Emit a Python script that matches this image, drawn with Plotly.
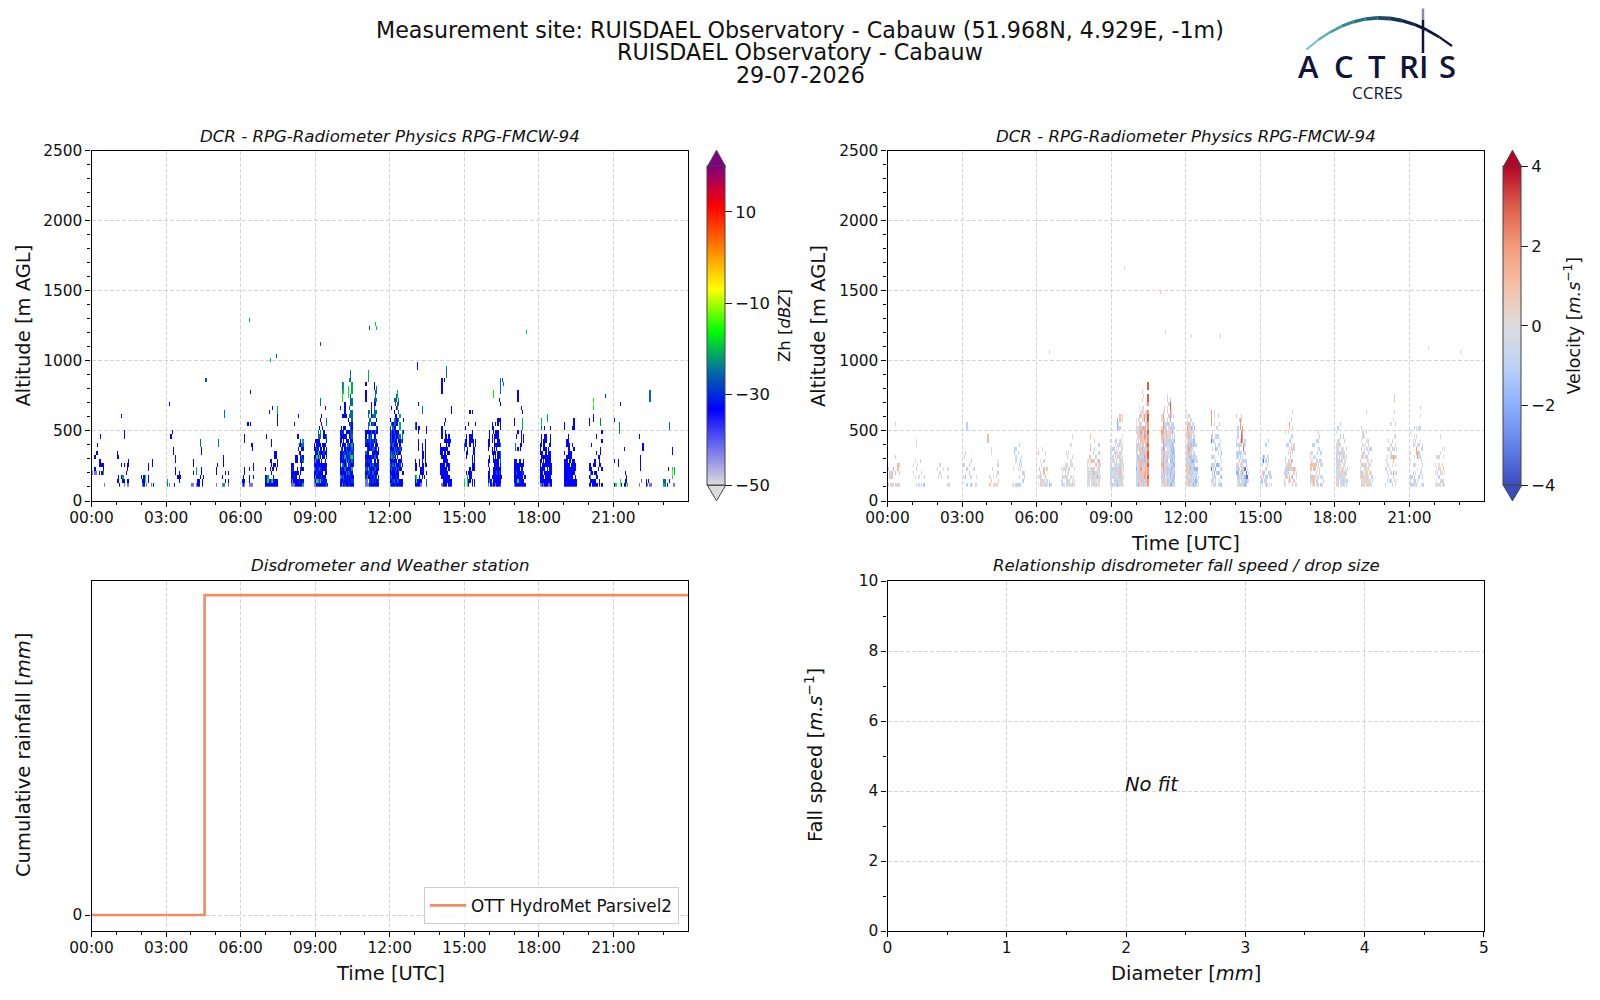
"""DCR and disdrometer quicklook for the Cabauw site, one day."""

import pandas as pd
import plotly.graph_objects as go

W, H = 1600, 1000
PAGE_MARGIN = 8   # browser body margin around the plot div
FONT = "DejaVu Sans"
GRID = "#d4d4d4"
NAVY = "#10143c"

# one group of radar columns per hour
burst_hours = [0.00, 1.03, 2.03, 3.04, 4.05, 5.04, 6.06, 7.02, 8.02, 9.00, 10.03, 11.03,
               12.02, 13.04, 14.07, 15.00, 16.00, 17.02, 18.03, 19.03, 20.03, 21.04, 22.05, 23.05]
column_step = 0.047   # hours
gate_bottom = 105.0   # m
gate_step = 28.6      # m

# letters are dBZ classes, one string per column, lowest gate first
zh_classes = {"a": -42, "b": -33, "c": -29, "d": -25, "e": -21, "f": -17, "g": -12, "h": -5}
zh_bursts = [
    "...aa ...a - ...ab..b ...a....b ........b.b - ...b.bb .....bb.....b ...b.b ...ebb a",
    ".b.....bb .bb....b b - ..b..b...........b .be ab...b......bb - ...b ab..bb ab...bb",
    "..b ab bbb .fe a - .bb.bb - a .....bb b",
    "de - a...................b ............b .............b ........bb b ...bb.bb - ..b .bbb ..b",
    "a a..b.bb - - a..ee bb bb ..b.......dd ...bb...bb bb ..b",
    "a..bb .....b ..........dd - - a.b e....bbb e................dd .b.b - ab.b",
    "ab bbb ab.bb......bb - - ...............b abb.b a..............b.......b a.........b a........bb ..b.bb",
    "bbb.b bbb.........b bfe bb................b bb..b.b be.b.bb...bb bf..b..............b bbb.bb bb...b.bb bb..b..bb bb...bb........bbbee",
    "abbbbb aabbcb abbbbb abcb...........b bbbb..bb bb.bb.bb....b bb.b.....b..b....b bcb.....b.b bb.bc.bbb.bb bb..bbbd.bd eb..b.db.bde",
    "aabbabcb.bb ababcbabbb.b bfbcbbbfbcbb bebbcbbbfbbbdd bcbbdbbfb.bbd.b bfbbcb.bbbb.dd..b...dd bbcbbbb.bb.....b.b bcbbbb.bb.b...b bbb.bb.bcbb.bb bcbbbbb.b.b.b......b eb.bcb.bbb.bd..dd b",
    "bcabbcbbb.bbcb.....b bbdbc.bbbc.bbcb abcbbdbcbbb.bb...b...fffdd bcdbbdbbc.bbbcb..b.....eee cbbbdbbecbb.b.b..bbbb bbcdbdecbd.bcb...b bbbcb.bbdbdb.b bcbdbbdcbbdb.b..b.....fff cbbdbdbcdbb.bb.b.d.d......d bbcbbbbedbcbcddd.dd.ddd...ddd bcbbebdfbdebdcbbddd.dd.eee bcb..bbcdbb",
    "aacbdbcbd.bcbb.......bbb.b aaebcbbbbcbb.b f.bcfbcbbbbcebdd.dd.......eee bcbdbbcb.bbcbb.dd.d bcbbbdbb.cdddb..d bbcbbbbc.bbbcd.b.bbbb bcbdbd.bbdbc.b.d.d bbdbcbbdbc.bbb.b.dddbd..bb bcbbdbbdbbbdbd.b.dd.bddd bbcbbb.bbcbb.bd.b.d..d.dd bb.bbcbbb.b..bb bcb.bbb.bb",
    "ebcbbdbbcbdbbbc.b bbdbdbbedbbddd.d...b bcbbbdbdcbdbbbdb bdbbcbbdbdbcbdbdd.b..d cbbcbebbebbbdbbddb..dd bbcbdbb.bdbbbb.bbb.b.dd bdbbbb.bdbb.bb.bb..dd.ee bcbbdbb.bb.bdb..d.d.dd bb..bcb.bdbbd.ee.e bb..b.bb.b.d bb.b.b.....bdd ...b.........b..b",
    "bbd.bbb.......dd bff.bb........bb bb...........................bb bb.......bbb.bb.....b bbb..bb.......b ab.bb ..bbbbbbbbb.......dd ...bbb.bb ..b .....bbbbbbb dd.b.b.......bb",
    "...bbb..bbb a.bbbb.bbb..bbb........bbbb bbbbbbbb.b bbbbbbbbbb.b...b..........b bbbbb.bbbb.bbb..b bbbbbbbb.bbbb..............ddd .bbb.bb.bb.b bbb.bb..b.bbb bb.........b bb................bb",
    "ef.......dd ..........bb..b ...b...bb.bbb ffe.....bb bb.b...........b .bbbb.....bbb.....b ..bb.......bb bb..bbbb...bbb....b ....bb..bbbb bb..bbbbbb ..........bb...b",
    "abbb.bb..bbb .ebbb.bb..bbbb bb a.b.....bb.bb.bb bbbbb.bbb....bb.......ff bbbbbbb.bbbbb abbbbbbbb.b.bb.b bbbdbbb..bb.bb bbbbbbbbb.bbbb.bb bbbdb..bb.bb....b....b dbbbbbddd.d...bbb...b..dddd ..b",
    "abbbbbb........bb bbbbbbb..dd bbbdbbb.....b bfbbbb...b...b.......bbb bbbbbbb bbbb.bb..bb bbbbbb....bbbb.....b bbbdbb........eee.b bb.b.bb....bb b.b",
    "abbbbbb.bbb abbbb.bbb.bbb.dfe bbbbbb.bb abb.bbbb.bbb bb.bbb.b.bbbb.b bbbb.bbbbb.bb bbbbbbbb........ee abbb.bbbbb abbbbbbbb.b bbbbbbbbb.bbb.b bb.bbb",
    "bbbbbbb.b.....bb bbbbbbb bbbbbbbb..bb bbbbbb.bbbbbb bbbbbbbbbbb bbbbb.bbb bbbbbb.bb bbbbbbb...b...b bb.bbbb..b....bbb bbb.bb bb",
    "b.b.bb.........bb bbeabb .b.bb.....b bb.b bb...b..........bb.fgf bb.b.bb b.bb....b...b b.b ....b..b bb...bbb .....b..bb.....dd b...b......b.b",
    "b.....b.........b f - .....bb .............ddd gf..................b b - b........b bb.b hbb e",
    "a...........b ....bbbb .a .........bb - - bb a .b a....................ddd a",
    "ed dd - b ....b .b............dd - ..fgf...bb a a..ee",
]
zh_iso_hours = [6.34, 9.2, 7.17, 7.42, 11.2, 11.43, 11.47, 17.5, 4.6, 20.7, 16.55, 16.6]
zh_iso_alt = [1278, 1121, 1012, 1033, 1233, 1266, 1240, 1193, 868, 755, 870, 830]
zh_iso_val = [-21, -27, -20, -27, -27, -19, -19, -19, -27, -31, -27, -25]

# same layout as zh_bursts, letters are velocity classes
vel_classes = {"n": 0.0, "m": -0.4, "c": -1.0, "d": -1.8, "D": -3.3, "p": 0.5, "o": 1.1, "q": 2.0, "O": 3.0}
vel_bursts = [
    "p..c..........p c...c ..cc p.op p.co c...d - p..o...c.......c m p...oo p..o.m",
    "...n.m - ..m...n c...c.....mm .....m m.n.. ......c c..m - c...... d.c",
    "....n... ..n ...m.m ..m.. - ....n - - n.n.n n.m.n c...",
    "..n..o .....m.c ..d.....c c...c.........cc - ...o.o m.n d.p...o - ....m p n.n",
    "...........oo p.n p.n .p......nn ....p p.n n....... n.n p..o.o .p.p.nn",
    "n..... m...n ........cc..... c.....mm.c c c...m...c c.m..c....c c...m.d .....c.m .c.c ..cm",
    "n.n.....o ..n.o ppmm..n.... pnn..m... nm.......m nm.oo.m c.o.....c pp..o.. nm..m .... dn m",
    "mn..m mmpn m.n.p ..nnnp mmm.nn..c nmnm.c.p pn.nn...n nm..c n.n..nn...n pp...m.c....m n.m nn..p",
    "nnnnmnn nnpmm.p nmnn.n.o ..nmn.mp.op.o nnmnp.o. nnpdc.o.c.. nmmpn.m..c.n mnnm.p.c..... pnnp.o.p... n.dnp.c.. npnnmmo.p.c.. ..n..p",
    "mmcmnmmcmn.p cm.mmcn.mm c.mnc.mp.c ncmpnmn.pc.. nmcmcn.cm.mm mmnmcmc.mm.c..... dcnmcm.cn.m...ddd nmmpnm.p.nn...nm mmcoommpp.pm..c.oo npmnmnc.mm.n..... mnpm.mpp.mn.n...pp n.n.mn",
    "cmmmdcmnmcmn.mnnn mmccmnccmnc.nmm dccmmmcd.mmcmnn.m mnopcoopnop.opopmp.n pocoqoocopnooqcp.on ccopmcdcmdpoomo.p.mn.p.c copopocpomoppcq.npnm..n mmqocpoqoc.pqqo.qq mcoqoodcmcoodcqc.nn pomppompopompc.mppo.n qqOqqOqOOqOqqOqqOOq.qOO.OO",
    "nmcmnocnmc.moqn.nn momoqqoqoqqqooqqoqn cmdcmncmcdcmncmcm.pp mn.mcmcmm.cmnmcp mmnmcmcmn.mcoomn oocoomocppmpmn.cc.mn.cm mcnmcn.nmnmcnnnc.c..m dmddcmdcmmcmcoo.qqqOOc dcmcdmcdcdcm.mcm.co ndmcccdcdcdcmdcm mcdmcdcmddcm.mcc.c cmcdmdcdcm.dc.c",
    "pmcnomcnmmn.pp.n.nn pnmnoncmcmcnppqmm ponomomooqomoopo.c. cmcmdcmdcmoccnmmm.. ncmcmcdcmcdcmcd.m mnmcmcdm.cmc.mcn dcnmcmdcm.dcmc.m ccmndcmcc.cdm.d cdcmd.mm..c .m.cd.m c.c.",
    "nm..Dc.m...Dc..qqqq .mnc.c.m.m.ppp nmm.cn.m...c..... c.cd.c.m...m...c.mm mpm.d.m..dc.m ...c.d...c..c.m.. c..d.d..m.c.c....c nm.m.c....c....c c.m.m..c.m.m.. d.d.c.m.d. .....",
    "...dcm.mc.cm.....c nmcdcm.cc.m.cmc cmc.p.c.ccc.....c c.mp.m.cc.mc..qqq ncmpcop.c.mOOq..mp mnmdcmnn...qqqq pmnmn.c.mOq.. dcd.D.c.m.mc. cdDD.cc .mD.n.. .n.n",
    "m.c .dm mc.c.ccn ..oo..Dd .p.c...c... cmc.p.c...c... m.c..p.c.... ...c..cn...c.. n.nm ..cc.. n.m. -",
    "nc.c.. m.ccc.mn.....m ..pmcm....c... .p.pomp.p.c..m .po.pom..p.p..oq.. .p..mp.cp..c ..c.pnq..cm.c...c c.d.c.m.mm..c.n...c .p.po....pp p...m..... p.mm -",
    "nmcnmo.pm .po.oop.m npo..pn.n.c pop.oo.m..c ..p.oo.m.... nc.m.pc....c.. mcn.n.c.c..c c.m..c...m.c.c ...mp.m..c..c c.m..mm.c.. n.m..p .c...",
    "ppnmcnpcmmn..n.. pnmnnpcmnnpn..c mcnpnmc.cmnc..c ..nmcnmcc.mn.. nmcn.pn.m.c.c..c mmnpp.pnmp.. pcmnnm.cpn..c.... nnnp.pnpm..c.. .mnpn.n... cn.c...c.c .c..c.... -",
    "..pmm.c...... mnmc.c.p.p.n..p pnpp.p.pm.n.mm pnp.pm..pn..n .pnpnp.c..n.. pnppnn.c.n.n.p....p ppppn.pm.m.n pnn.pnn.p.np mm.p.n...c... n.cn..p..c.. .mc.... -",
    "c...p ....n.c....... .c.c.m.m.m.. ..n..m...p.c.. .m..m....c .c.m...pn.n....n c....n.n.c.c.. ..mq..oq.p......n.. .c.....o.p..n.....c..pp n..n.n.m..n.c..c .n.c...n.c ...",
    "cmc...n.n....m c.c...... mm.c.n....nn mmm..m.n..c.n.c nc.n.n.....p.... c.......oq..m.n.. .m..n..qq.m ..c....nc.m...m.. ...m...c...n..c..m.c n..cc.m..p.. c.c..m...cm c",
    "n..n.n nn..n..n n..p...m n.c.nn.p nm.np...m...m .p.n nm.n.p...n.... nm..p..n n..n.....m",
]
vel_iso_hours = [9.55, 10.98, 13.4, 23.07, 6.52, 11.2, 12.23, 21.75]
vel_iso_alt = [1650, 1485, 1190, 1075, 1050, 1220, 1190, 1090]
vel_iso_val = [-0.4, 0.8, -0.6, 0.3, 0.7, -0.8, -0.7, 0.5]

# rain gauge
rain_hours = [0, 4.55, 24]
rain_total = [0, 1, 1]
rain_label = "OTT HydroMet Parsivel2"

zh_scale = [[0, "#dcdcdc"], [0.237, "#0000ff"], [0.36, "#0070a0"], [0.483, "#00ff00"],
            [0.614, "#ffff00"], [0.874, "#ff0000"], [1, "#800080"]]
vel_scale = [[0, "#3b4cc0"], [0.125, "#6282ea"], [0.25, "#8db0fe"], [0.375, "#bdd2f6"],
             [0.5, "#dddcdc"], [0.625, "#f6bfa6"], [0.75, "#f49a7b"], [0.875, "#dc5d4a"], [1, "#b40426"]]


def fx(x):
    return (x - PAGE_MARGIN) / (W - PAGE_MARGIN)


def fy(y):
    return 1 - (y - PAGE_MARGIN) / (H - PAGE_MARGIN)


def build_grid(bursts, classes, iso_hours, iso_alt, iso_val):
    """Expand the column strings to a full time/height grid, None where no echo."""
    n_cols = int(24 / column_step) + 1
    n_rows = 60
    grid = [[None] * n_cols for _ in range(n_rows)]
    for start, burst in zip(burst_hours, bursts):
        first = round(start / column_step)
        for c, column in enumerate(burst.split()):
            if column == "-":
                continue
            for g, level in enumerate(column):
                if level != ".":
                    grid[g][first + c] = classes[level]
    for hour, alt, val in zip(iso_hours, iso_alt, iso_val):
        grid[int((alt - gate_bottom) / gate_step)][round(hour / column_step)] = val
    return grid


day = pd.Timestamp("2026-07-29")
day_end = "2026-07-29 23:59:30"
col_times = [day + pd.Timedelta(hours=i * column_step) for i in range(int(24 / column_step) + 1)]
gate_alts = [gate_bottom + (g + 0.5) * gate_step for g in range(60)]
rain_times = [day + pd.Timedelta(hours=h) for h in rain_hours]

fig = go.Figure()


def colorbar(x, ticks, labels):
    return dict(
        x=fx(x), xanchor="left", xpad=0, y=fy(485.3), yanchor="bottom", ypad=0,
        lenmode="pixels", len=318.5, thicknessmode="pixels", thickness=18.4,
        outlinecolor="#444444", outlinewidth=1,
        tickmode="array", tickvals=ticks, ticktext=labels, ticks="outside", ticklen=7,
        tickcolor="#222222", tickfont=dict(size=16.4),
    )


fig.add_trace(go.Heatmap(
    x=col_times, y=gate_alts,
    z=build_grid(zh_bursts, zh_classes, zh_iso_hours, zh_iso_alt, zh_iso_val),
    zmin=-50, zmax=20, colorscale=zh_scale, xaxis="x", yaxis="y",
    colorbar=colorbar(707.3, [-50, -30, -10, 10], ["−50", "−30", "−10", "10"]),
))
fig.add_trace(go.Heatmap(
    x=col_times, y=gate_alts,
    z=build_grid(vel_bursts, vel_classes, vel_iso_hours, vel_iso_alt, vel_iso_val),
    zmin=-4, zmax=4, colorscale=vel_scale, xaxis="x2", yaxis="y2",
    colorbar=colorbar(1503.3, [-4, -2, 0, 2, 4], ["−4", "−2", "0", "2", "4"]),
))
fig.add_trace(go.Scatter(
    x=rain_times, y=rain_total, mode="lines", name=rain_label, line=dict(color="#f28a62", width=2.6, shape="hv"),
    xaxis="x3", yaxis="y3", showlegend=True,
))
# empty fit panel still needs a trace so its axes are drawn
fig.add_trace(go.Scatter(x=[], y=[], xaxis="x4", yaxis="y4", showlegend=False))

common = dict(
    showline=True, linecolor="black", linewidth=1.2, mirror=True, ticks="outside", ticklen=5,
    tickcolor="black", showgrid=True, gridcolor=GRID, griddash="4px,2px", gridwidth=1,
    zeroline=False, tickfont=dict(size=15.4), automargin=False,
)
hour_minor = dict(ticks="outside", ticklen=3, dtick=3600000, tickcolor="black", showgrid=False)


def time_axis(x0, x1, y_anchor):
    return dict(
        common, domain=[fx(x0), fx(x1)], anchor=y_anchor, type="date", range=[day, day_end],
        dtick=3 * 3600000, tick0=day, tickformat="%H:%M", minor=hour_minor, ticklabelstandoff=-3,
    )


def height_axis(x_anchor):
    return dict(
        common, domain=[fy(501), fy(150.5)], anchor=x_anchor, range=[0, 2500], dtick=500,
        minor=dict(ticks="outside", ticklen=3, dtick=100, tickcolor="black", showgrid=False),
    )


fig.update_layout(
    width=W - PAGE_MARGIN, height=H - PAGE_MARGIN, autosize=False, margin=dict(l=0, r=0, t=0, b=0),
    paper_bgcolor="white", plot_bgcolor="white", font=dict(family=FONT, size=15, color="#111111"),
    xaxis=time_axis(91.5, 687.8, "y"),
    yaxis=height_axis("x"),
    xaxis2=time_axis(887.5, 1483.8, "y2"),
    yaxis2=height_axis("x2"),
    xaxis3=time_axis(91.5, 687.8, "y3"),
    yaxis3=dict(
        common, domain=[fy(931), fy(581)], anchor="x3", range=[-0.05, 1.044], tickmode="array",
        tickvals=[0], ticktext=["0"],
    ),
    xaxis4=dict(
        common, domain=[fx(887.5), fx(1483.8)], anchor="y4", range=[0, 5], dtick=1, ticklabelstandoff=-3,
        minor=dict(ticks="outside", ticklen=3, dtick=0.5, tickcolor="black", showgrid=False),
    ),
    yaxis4=dict(
        common, domain=[fy(931), fy(581)], anchor="x4", range=[0, 10], dtick=2,
        minor=dict(ticks="outside", ticklen=3, dtick=1, tickcolor="black", showgrid=False),
    ),
    legend=dict(
        x=fx(679), xanchor="right", y=fy(924), yanchor="bottom", bgcolor="rgba(255,255,255,0.8)",
        bordercolor="#cccccc", borderwidth=1, font=dict(size=16.8), itemwidth=36,
    ),
)


def note(text, x, y, size, angle=0, **font):
    fig.add_annotation(text=text, x=fx(x), y=fy(y), xref="paper", yref="paper", showarrow=False,
                       xanchor="center", yanchor="middle", textangle=angle, font=dict(size=size, **font))


note("Measurement site: RUISDAEL Observatory - Cabauw (51.968N, 4.929E, -1m)", 800, 29.5, 22.2)
note("RUISDAEL Observatory - Cabauw", 800, 52, 22.2)
note("29-07-2026", 800, 75, 22.2)
for left, right, top, label in [
    (91.5, 688.5, 136, "<i>DCR - RPG-Radiometer Physics RPG-FMCW-94</i>"),
    (887.5, 1484.5, 136, "<i>DCR - RPG-Radiometer Physics RPG-FMCW-94</i>"),
    (91.5, 688.5, 565.5, "<i>Disdrometer and Weather station</i>"),
    (887.5, 1484.5, 565.5, "<i>Relationship disdrometer fall speed / drop size</i>"),
]:
    note(label, (left + right) / 2, top, 16.6)
fig.add_annotation(text="<i>No fit</i>", x=2, y=4, xref="x4", yref="y4", showarrow=False, xshift=-3, yshift=-7,
                   xanchor="left", yanchor="bottom", font=dict(size=19.5))

# axis and colorbar titles sit at fixed places in the reference layout
note("Altitude [m AGL]", 23, 325.5, 19.5, -90)
note("Altitude [m AGL]", 818.5, 325.5, 19.5, -90)
note("Cumulative rainfall [<i>mm</i>]", 23, 755, 19.5, -90)
note("Fall speed [<i>m.s</i><sup>−1</sup>]", 814, 755, 19.5, -90)
note("Time [UTC]", 1185, 543, 19.5)
note("Time [UTC]", 390, 973, 19.5)
note("Diameter [<i>mm</i>]", 1186, 973, 19.5)
note("Zh [<i>dBZ</i>]", 784, 326, 16.5, -90)
note("Velocity [<i>m.s</i><sup>−1</sup>]", 1572, 325.5, 17.5, -90)

# logo: letters, arc made of short coloured pieces, mast
for letter, x in zip("ACTRIS", [1308, 1344, 1377, 1409, 1423, 1447]):
    note(letter, x, 66, 31, family="Open Sans", color=NAVY, weight=600)
note("CCRES", 1377, 92.5, 17, family="Open Sans", color=NAVY)

arc_colors = ["#74c4bf", "#5fb3b3", "#459ca5", "#2f8796", "#257486", "#1f5f76", "#1b4866", "#163455", "#122448", NAVY, NAVY, NAVY]
p0, p1, p2 = (1306.5, 49.5), (1376, -12), (1452, 46)
pieces = len(arc_colors)
for i, color in enumerate(arc_colors):
    t0, t1 = i / pieces, (i + 1) / pieces
    xa, ya = [(1 - t0) ** 2 * p0[k] + 2 * t0 * (1 - t0) * p1[k] + t0 ** 2 * p2[k] for k in (0, 1)]
    xb, yb = [(1 - t1) ** 2 * p0[k] + 2 * t1 * (1 - t1) * p1[k] + t1 ** 2 * p2[k] for k in (0, 1)]
    fig.add_shape(type="line", xref="paper", yref="paper", x0=fx(xa), y0=fy(ya), x1=fx(xb), y1=fy(yb),
                  line=dict(color=color, width=2 + 2 * (1 - abs(2 * t0 - 1))))
fig.add_shape(type="line", xref="paper", yref="paper", x0=fx(1423), y0=fy(20), x1=fx(1423), y1=fy(53),
              line=dict(color=NAVY, width=2.5))
fig.add_shape(type="line", xref="paper", yref="paper", x0=fx(1423), y0=fy(8.5), x1=fx(1423), y1=fy(20),
              line=dict(color="#8a8ca6", width=2.5))

# colorbar extension tips, plotly has none of its own
for x0, x1, tips in [
    (707.3, 725.7, [(150.3, 166.8, "#800080"), (500.8, 485.3, "#dcdcdc")]),
    (1503.3, 1521.7, [(150.3, 166.8, "#b40426"), (500.8, 485.3, "#3b4cc0")]),
]:
    for tip, base, color in tips:
        path = f"M {fx(x0)} {fy(base)} L {fx((x0 + x1) / 2)} {fy(tip)} L {fx(x1)} {fy(base)} Z"
        fig.add_shape(type="path", xref="paper", yref="paper", path=path, fillcolor=color,
                      line=dict(color="#444444", width=1))

fig.write_html("out.html")
